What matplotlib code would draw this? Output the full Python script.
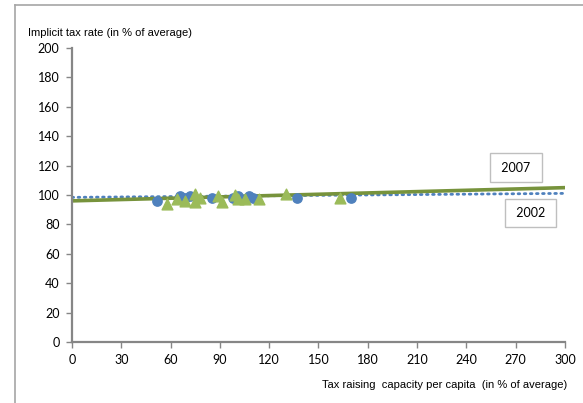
import matplotlib.pyplot as plt
from matplotlib.lines import Line2D
import numpy as np

# 2002 data (blue circles)
x_2002 = [52, 66, 69, 72, 85, 98, 101, 108, 110, 137, 170]
y_2002 = [96, 99, 98, 99, 98, 98, 99, 99, 98, 98, 98]

# 2007 data (green triangles)
x_2007 = [58, 64, 69, 75, 75, 78, 89, 91, 99, 101, 105, 114, 130, 163]
y_2007 = [94, 97, 96, 101, 95, 98, 99, 95, 100, 97, 97, 97, 101, 98]

# linear trend lines (intercept, slope)
trend_2002 = (98.4, 0.009)
trend_2007 = (96.0, 0.030)

x_ticks = [0, 30, 60, 90, 120, 150, 180, 210, 240, 270, 300]
y_ticks = [0, 20, 40, 60, 80, 100, 120, 140, 160, 180, 200]

label_font = ['Liberation Sans Narrow', 'Liberation Sans', 'DejaVu Sans']
tick_font = ['Lato', 'DejaVu Sans']

fig = plt.figure(figsize=(5.83, 4.03), dpi=100)
ax = fig.add_axes([0.1235, 0.1514, 0.8456, 0.7295])

gray = '#868686'

xs = np.array([0, 300])
ax.plot(xs, trend_2002[0] + trend_2002[1] * xs, color='#4F81BD', lw=2,
        linestyle=(0, (0.6, 1.6)), dash_capstyle='round', zorder=2)
ax.plot(xs, trend_2007[0] + trend_2007[1] * xs, color='#77933C', lw=2.6, zorder=2)

ax.scatter(x_2002, y_2002, marker='o', s=45, color='#4F81BD', zorder=3)
ax.scatter(x_2007, y_2007, marker='^', s=60, color='#9BBB59', zorder=4)

ax.set_xlim(0, 300)
ax.set_ylim(0, 200)
ax.set_xticks(x_ticks)
ax.set_yticks(y_ticks)
for lab in ax.get_xticklabels() + ax.get_yticklabels():
    lab.set_family(tick_font)
    lab.set_fontsize(9)
ax.tick_params(axis='both', direction='out', length=4, width=1, color=gray, pad=5)

for s in ['top', 'right']:
    ax.spines[s].set_visible(False)
for s in ['left', 'bottom']:
    ax.spines[s].set_color(gray)
    ax.spines[s].set_linewidth(1.6)

# labels
fig.text(28 / 583, 1 - 33 / 403, 'Implicit tax rate (in % of average)', family=label_font,
         fontsize=8, va='center', ha='left')
fig.text(567 / 583, 1 - 385 / 403, 'Tax raising  capacity per capita  (in % of average)',
         family=label_font, fontsize=8, va='center', ha='right')

box = dict(boxstyle='square,pad=0.65', fc='white', ec='#BFBFBF', lw=1)
ax.text(270, 118.7, ' 2007 ', ha='center', va='center', fontsize=9, family=tick_font, bbox=box)
ax.text(279, 87.8, ' 2002 ', ha='center', va='center', fontsize=9, family=tick_font, bbox=box)

# outer frame (left and top edges of the chart area)
fig.add_artist(Line2D([15 / 583, 15 / 583], [0, 1 - 5 / 403], transform=fig.transFigure,
                      color='#A6A6A6', lw=1.2))
fig.add_artist(Line2D([15 / 583, 1], [1 - 5 / 403, 1 - 5 / 403], transform=fig.transFigure,
                      color='#A6A6A6', lw=1.2))

fig.savefig('out.png', dpi=100)
